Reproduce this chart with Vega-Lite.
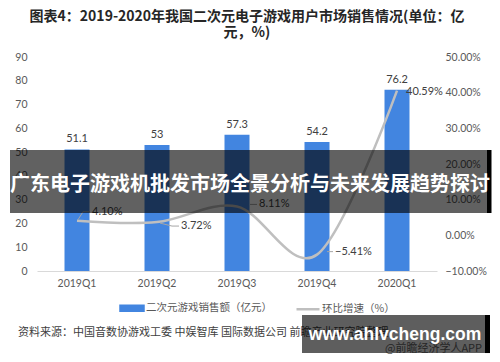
{
  "$schema": "https://vega.github.io/schema/vega-lite/v6.json",
  "width": 400,
  "height": 214,
  "autosize": "none",
  "padding": {"left": 37, "top": 57, "right": 63, "bottom": 91},
  "background": "white",
  "title": {
    "text": ["图表4：2019-2020年我国二次元电子游戏用户市场销售情况(单位：亿", "元，%)"],
    "font": "Noto Sans CJK SC",
    "fontSize": 14,
    "fontWeight": "bold",
    "color": "#262626",
    "anchor": "middle",
    "lineHeight": 16,
    "offset": 12,
    "dx": 10
  },
  "config": {
    "view": {"stroke": null},
    "axis": {"labelFont": "Lato", "labelFontSize": 10.5, "labelColor": "#595959", "ticks": false, "grid": false, "title": null, "labelOverlap": false}
  },
  "data": {
    "values": [
      {"q": "2019Q1", "sales": 51.1, "growth": 0.041},
      {"q": "2019Q2", "sales": 53, "growth": 0.0372},
      {"q": "2019Q3", "sales": 57.3, "growth": 0.0811},
      {"q": "2019Q4", "sales": 54.2, "growth": -0.0541},
      {"q": "2020Q1", "sales": 76.2, "growth": 0.4059}
    ]
  },
  "layer": [
    {
      "layer": [
        {
          "mark": {"type": "bar"},
          "encoding": {
            "x": {"field": "q", "type": "nominal", "sort": null,
                  "scale": {"paddingInner": 0.6875, "paddingOuter": 0.34375},
                  "axis": {"title": null, "labelAngle": 0, "domainColor": "#d9d9d9", "domainWidth": 1, "labelPadding": 7, "labelOverlap": false}},
            "y": {"field": "sales", "type": "quantitative",
                  "scale": {"domain": [0, 90], "nice": false},
                  "axis": {"title": null, "orient": "left", "domain": false, "values": [0, 10, 20, 30, 40, 50, 60, 70, 80, 90], "tickCount": 10, "labelPadding": 10, "labelOverlap": false}},
            "color": {"datum": "二次元游戏销售额（亿元）",
                      "scale": {"domain": ["二次元游戏销售额（亿元）", "环比增速（%）"], "range": ["#4285e0", "#bfbfbf"]},
                      "legend": {
                        "title": null,
                        "orient": "none",
                        "legendX": 82,
                        "legendY": 238,
                        "direction": "horizontal",
                        "labelFont": "Noto Sans CJK SC",
                        "labelFontSize": 10.5,
                        "labelColor": "#595959",
                        "labelOffset": 1,
                        "columnPadding": 19,
                        "symbolSize": 529,
                        "encode": {
                          "symbols": {
                            "update": {
                              "shape": {"signal": "datum.label == '环比增速（%）' ? 'stroke' : 'M-1,-0.22H1V0.22H-1Z'"},
                              "fill": {"signal": "datum.label == '环比增速（%）' ? 'transparent' : '#4285e0'"},
                              "stroke": {"signal": "datum.label == '环比增速（%）' ? '#bfbfbf' : 'transparent'"},
                              "strokeWidth": {"value": 2.5}
                            }
                          }
                        }
                      }}
          }
        },
        {
          "mark": {"type": "text", "baseline": "bottom", "dy": -5, "font": "Lato", "fontSize": 11, "color": "#404040"},
          "encoding": {
            "x": {"field": "q", "type": "nominal", "sort": null},
            "y": {"field": "sales", "type": "quantitative"},
            "text": {"field": "sales", "type": "quantitative"}
          }
        }
      ]
    },
    {
      "layer": [
        {
          "mark": {"type": "line", "interpolate": "cardinal", "strokeWidth": 2.5},
          "encoding": {
            "x": {"field": "q", "type": "nominal", "sort": null},
            "y": {"field": "growth", "type": "quantitative",
                  "scale": {"domain": [-0.1, 0.5], "nice": false},
                  "axis": {"title": null, "orient": "right", "domain": false, "format": ".2%", "values": [-0.1, 0, 0.1, 0.2, 0.3, 0.4, 0.5], "tickCount": 7, "labelPadding": 8, "labelOverlap": false}},
            "color": {"datum": "环比增速（%）"}
          }
        },
        {
          "transform": [{"filter": "datum.q == '2019Q1'"}],
          "mark": {"type": "rule", "color": "#a6a6a6", "strokeWidth": 1, "xOffset": 1, "yOffset": -1, "x2Offset": 6, "y2Offset": -9},
          "encoding": {"x": {"field": "q", "type": "nominal", "sort": null}, "x2": {"field": "q"}, "y": {"field": "growth", "type": "quantitative"}, "y2": {"field": "growth"}}
        },
        {
          "transform": [{"filter": "datum.q == '2019Q1'"}],
          "mark": {"type": "rule", "color": "#a6a6a6", "strokeWidth": 1, "xOffset": 6, "yOffset": -9, "x2Offset": 13, "y2Offset": -9},
          "encoding": {"x": {"field": "q", "type": "nominal", "sort": null}, "x2": {"field": "q"}, "y": {"field": "growth", "type": "quantitative"}, "y2": {"field": "growth"}}
        },
        {
          "transform": [{"filter": "datum.q == '2019Q2'"}],
          "mark": {"type": "rule", "color": "#a6a6a6", "strokeWidth": 1, "xOffset": 3, "yOffset": 1, "x2Offset": 15, "y2Offset": 4},
          "encoding": {"x": {"field": "q", "type": "nominal", "sort": null}, "x2": {"field": "q"}, "y": {"field": "growth", "type": "quantitative"}, "y2": {"field": "growth"}}
        },
        {
          "transform": [{"filter": "datum.q == '2019Q2'"}],
          "mark": {"type": "rule", "color": "#a6a6a6", "strokeWidth": 1, "xOffset": 15, "yOffset": 4, "x2Offset": 22, "y2Offset": 4},
          "encoding": {"x": {"field": "q", "type": "nominal", "sort": null}, "x2": {"field": "q"}, "y": {"field": "growth", "type": "quantitative"}, "y2": {"field": "growth"}}
        },
        {
          "transform": [{"filter": "datum.q == '2019Q3'"}],
          "mark": {"type": "rule", "color": "#a6a6a6", "strokeWidth": 1, "xOffset": 13, "yOffset": -2, "x2Offset": 20, "y2Offset": -2},
          "encoding": {"x": {"field": "q", "type": "nominal", "sort": null}, "x2": {"field": "q"}, "y": {"field": "growth", "type": "quantitative"}, "y2": {"field": "growth"}}
        },
        {
          "transform": [{"filter": "datum.q == '2019Q4'"}],
          "mark": {"type": "rule", "color": "#a6a6a6", "strokeWidth": 1, "xOffset": 10, "yOffset": -3, "x2Offset": 16, "y2Offset": -3},
          "encoding": {"x": {"field": "q", "type": "nominal", "sort": null}, "x2": {"field": "q"}, "y": {"field": "growth", "type": "quantitative"}, "y2": {"field": "growth"}}
        },
        {
          "transform": [{"filter": "datum.q == '2019Q1'"}],
          "mark": {"type": "text", "align": "left", "baseline": "middle", "dx": 15, "dy": -9, "font": "Lato", "fontSize": 11, "color": "#404040"},
          "encoding": {"x": {"field": "q", "type": "nominal", "sort": null}, "y": {"field": "growth", "type": "quantitative"}, "text": {"field": "growth", "type": "quantitative", "format": ".2%"}}
        },
        {
          "transform": [{"filter": "datum.q == '2019Q2'"}],
          "mark": {"type": "text", "align": "left", "baseline": "middle", "dx": 24, "dy": 4, "font": "Lato", "fontSize": 11, "color": "#404040"},
          "encoding": {"x": {"field": "q", "type": "nominal", "sort": null}, "y": {"field": "growth", "type": "quantitative"}, "text": {"field": "growth", "type": "quantitative", "format": ".2%"}}
        },
        {
          "transform": [{"filter": "datum.q == '2019Q3'"}],
          "mark": {"type": "text", "align": "left", "baseline": "middle", "dx": 22, "dy": -2, "font": "Lato", "fontSize": 11, "color": "#404040"},
          "encoding": {"x": {"field": "q", "type": "nominal", "sort": null}, "y": {"field": "growth", "type": "quantitative"}, "text": {"field": "growth", "type": "quantitative", "format": ".2%"}}
        },
        {
          "transform": [{"filter": "datum.q == '2019Q4'"}],
          "mark": {"type": "text", "align": "left", "baseline": "middle", "dx": 18, "dy": -3, "font": "Lato", "fontSize": 11, "color": "#404040"},
          "encoding": {"x": {"field": "q", "type": "nominal", "sort": null}, "y": {"field": "growth", "type": "quantitative"}, "text": {"field": "growth", "type": "quantitative", "format": ".2%"}}
        },
        {
          "transform": [{"filter": "datum.q == '2020Q1'"}],
          "mark": {"type": "text", "align": "left", "baseline": "middle", "dx": 9, "dy": 1, "font": "Lato", "fontSize": 11, "color": "#404040"},
          "encoding": {"x": {"field": "q", "type": "nominal", "sort": null}, "y": {"field": "growth", "type": "quantitative"}, "text": {"field": "growth", "type": "quantitative", "format": ".2%"}}
        }
      ]
    },
    {
      "layer": [
        {
          "data": {"values": [{"label": "资料来源：中国音数协游戏工委 中娱智库 国际数据公司 前瞻产业研究院整理"}]},
          "mark": {"type": "text", "align": "left", "baseline": "middle", "dx": -59, "font": "Noto Sans CJK SC", "fontSize": 11, "color": "#404040"},
          "encoding": {
            "x": {"datum": "2019Q1", "type": "nominal"},
            "y": {"datum": -26.1, "type": "quantitative", "scale": {"domain": [0, 90], "nice": false}, "axis": null},
            "text": {"field": "label", "type": "nominal"}
          }
        },
        {
          "data": {"values": [{"label": "@前瞻经济学人APP"}]},
          "mark": {"type": "text", "align": "left", "baseline": "middle", "dx": -12, "font": "Noto Sans CJK SC", "fontSize": 11, "color": "#666666"},
          "encoding": {
            "x": {"datum": "2020Q1", "type": "nominal"},
            "y": {"datum": -32.8, "type": "quantitative"},
            "text": {"field": "label", "type": "nominal"}
          }
        },
        {
          "data": {"values": [{"box": "site"}]},
          "mark": {"type": "rect", "color": "#000000", "opacity": 0.63},
          "encoding": {
            "x": {"datum": "2019Q4", "type": "nominal", "bandPosition": -0.1},
            "x2": {"datum": "2020Q1", "bandPosition": 4.02},
            "y": {"datum": -18.5, "type": "quantitative"},
            "y2": {"datum": -34.5}
          }
        },
        {
          "data": {"values": [{"box": "site edge"}]},
          "mark": {"type": "rect", "color": "#000000", "opacity": 1},
          "encoding": {
            "x": {"datum": "2020Q1", "type": "nominal", "bandPosition": 4.02},
            "x2": {"datum": "2020Q1", "bandPosition": 4.22},
            "y": {"datum": -18.5, "type": "quantitative"},
            "y2": {"datum": -34.5}
          }
        },
        {
          "data": {"values": [{"label": "www.ahlvcheng.com"}]},
          "mark": {"type": "text", "align": "center", "baseline": "middle", "dx": -2, "font": "Liberation Sans", "fontWeight": "bold", "fontSize": 17.5, "color": "#ffffff"},
          "encoding": {
            "x": {"datum": "2020Q1", "type": "nominal"},
            "y": {"datum": -26.9, "type": "quantitative"},
            "text": {"field": "label", "type": "nominal"}
          }
        },
        {
          "data": {"values": [{"box": "banner"}]},
          "mark": {"type": "rect", "color": "#000000", "opacity": 0.62},
          "encoding": {
            "x": {"datum": "2019Q1", "type": "nominal", "bandPosition": -2.18},
            "x2": {"datum": "2020Q1", "bandPosition": 4.1},
            "y": {"datum": 50.9, "type": "quantitative"},
            "y2": {"datum": 24.4}
          }
        },
        {
          "data": {"values": [{"box": "banner edge"}]},
          "mark": {"type": "rect", "color": "#000000", "opacity": 1},
          "encoding": {
            "x": {"datum": "2020Q1", "type": "nominal", "bandPosition": 4.1},
            "x2": {"datum": "2020Q1", "bandPosition": 4.28},
            "y": {"datum": 50.9, "type": "quantitative"},
            "y2": {"datum": 24.4}
          }
        },
        {
          "data": {"values": [{"label": "广东电子游戏机批发市场全景分析与未来发展趋势探讨"}]},
          "mark": {"type": "text", "align": "center", "baseline": "middle", "dx": 13, "font": "Noto Sans CJK SC", "fontWeight": "bold", "fontSize": 20, "color": "#ffffff"},
          "encoding": {
            "x": {"datum": "2019Q3", "type": "nominal"},
            "y": {"datum": 36.2, "type": "quantitative"},
            "text": {"field": "label", "type": "nominal"}
          }
        }
      ]
    }
  ],
  "resolve": {"scale": {"y": "independent"}}
}
